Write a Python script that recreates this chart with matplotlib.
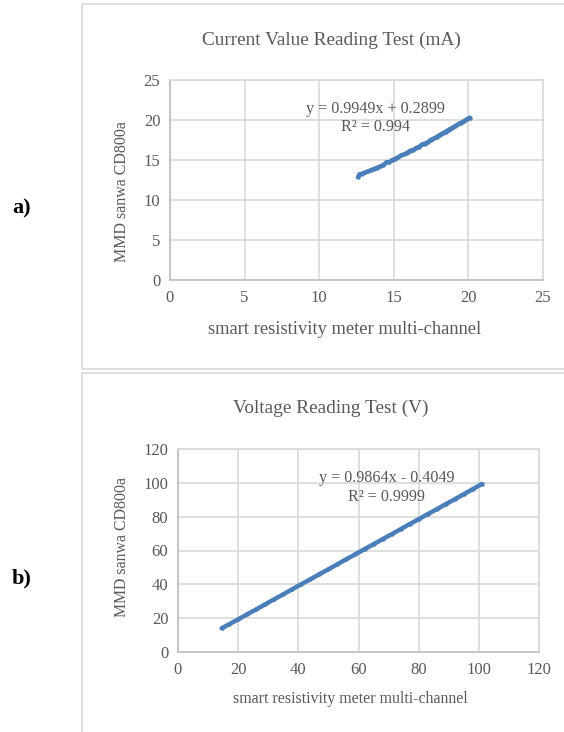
import matplotlib
matplotlib.use("Agg")
import matplotlib.pyplot as plt
from matplotlib.patches import Rectangle

# ---------------- data ----------------
cur_x = [12.6, 12.7, 12.9, 13.1, 13.3, 13.5, 13.7, 13.9, 14.1, 14.3, 14.5, 14.7,
         14.9, 15.1, 15.3, 15.5, 15.7, 15.9, 16.1, 16.3, 16.5, 16.7, 16.9, 17.1,
         17.3, 17.5, 17.7, 17.9, 18.1, 18.3, 18.5, 18.7, 18.9, 19.1, 19.3, 19.5,
         19.7, 19.9, 20.1]
cur_y = [12.85, 13.2, 13.3, 13.45, 13.6, 13.75, 13.9, 14.05, 14.2, 14.35, 14.7, 14.75,
         15.0, 15.15, 15.35, 15.6, 15.7, 15.9, 16.15, 16.25, 16.5, 16.65, 16.95, 17.05,
         17.25, 17.55, 17.7, 17.9, 18.15, 18.35, 18.55, 18.8, 19.0, 19.2, 19.45, 19.65,
         19.85, 20.1, 20.3]

vol_x = [14.5, 17.0, 20.0, 23.0, 26.0, 29.0, 32.0, 35.0, 38.0, 41.0, 44.0, 47.0,
         50.0, 53.0, 56.0, 59.0, 62.0, 65.0, 68.0, 71.0, 74.0, 77.0, 80.0, 83.0,
         86.0, 89.0, 92.0, 95.0, 98.0, 101.0]
vol_y = [14.0, 16.4, 19.3, 22.3, 25.2, 28.2, 31.2, 34.1, 37.1, 40.1, 43.0, 46.0,
         48.9, 51.9, 54.9, 57.8, 60.8, 63.7, 66.7, 69.6, 72.6, 75.6, 78.5, 81.5,
         84.4, 87.4, 90.3, 93.3, 96.3, 99.3]

cur_ticks = [0, 5, 10, 15, 20, 25]
vol_ticks = [0, 20, 40, 60, 80, 100, 120]

cur_title = "Current Value Reading Test (mA)"
vol_title = "Voltage Reading Test (V)"
xlab = "smart resistivity meter multi-channel"
ylab = "MMD sanwa CD800a"
cur_eq = "y = 0.9949x + 0.2899\nR\u00b2 = 0.994"
vol_eq = "y = 0.9864x - 0.4049\nR\u00b2 = 0.9999"

# ---------------- style ----------------
W, H = 564, 732
DPI = 100
SERIF = ["Liberation Serif", "DejaVu Serif"]
TXT = "#595959"
GRID = "#d9d9d9"
BLUE = "#4A7EBB"

plt.rcParams["font.family"] = SERIF

fig = plt.figure(figsize=(W / DPI, H / DPI), dpi=DPI)

def fx(px):
    return px / W

def fy(py):
    return 1 - py / H

# panel borders
for (x0, y0, x1, y1) in [(82, 4, 566, 369), (82, 373, 566, 735)]:
    fig.patches.append(Rectangle((fx(x0), fy(y1)), fx(x1) - fx(x0), fy(y0) - fy(y1),
                                 transform=fig.transFigure, fill=False,
                                 edgecolor="#d9d9d9", linewidth=1.2))

def make_axes(left, top, right, bottom, x, y, ticks, eq, eqpos, title, titlepos,
              ylabpos, xlabpos, tick_fs, eq_fs, xlab_fs, ylab_fs):
    ax = fig.add_axes([fx(left), fy(bottom), fx(right) - fx(left), fy(top) - fy(bottom)])
    ax.plot(x, y, color=BLUE, linewidth=3.2, marker="o", markersize=2.2,
            solid_capstyle="round")
    ax.set_xlim(ticks[0], ticks[-1])
    ax.set_ylim(ticks[0], ticks[-1])
    ax.set_xticks(ticks)
    ax.set_yticks(ticks)
    ax.grid(True, color=GRID, linewidth=1.2)
    ax.set_axisbelow(True)
    for s in ax.spines.values():
        s.set_color(GRID)
        s.set_linewidth(1.2)
    ax.spines["left"].set_color("#bfbfbf")
    ax.spines["bottom"].set_color("#bfbfbf")
    ax.tick_params(length=0, labelsize=tick_fs, labelcolor=TXT, pad=7)
    ax.text(eqpos[0], eqpos[1], eq, transform=ax.transAxes, ha="center", va="center",
            fontsize=eq_fs, color=TXT, linespacing=1.2)
    fig.text(fx(titlepos[0]), fy(titlepos[1]), title, ha="center", va="center",
             fontsize=13.9, color=TXT)
    fig.text(fx(ylabpos[0]), fy(ylabpos[1]), ylab, ha="center", va="center",
             rotation=90, fontsize=ylab_fs, color=TXT)
    fig.text(fx(xlabpos[0]), fy(xlabpos[1]), xlab, ha="center", va="center",
             fontsize=xlab_fs, color=TXT)
    return ax

make_axes(170, 80, 543, 280, cur_x, cur_y, cur_ticks, cur_eq, (0.552, 0.81),
          cur_title, (331, 40), (122, 192), (345, 330), 12, 11.6, 13.3, 11.5)
make_axes(178, 449, 539, 652, vol_x, vol_y, vol_ticks, vol_eq, (0.577, 0.81),
          vol_title, (331, 408), (122, 547), (350, 699), 12, 11.6, 11.4, 11.4)

fig.text(fx(22), fy(208), "a)", ha="center", va="center", fontsize=16,
         fontweight="bold", color="black")
fig.text(fx(22), fy(578), "b)", ha="center", va="center", fontsize=16,
         fontweight="bold", color="black")

fig.savefig("out.png", dpi=DPI)
